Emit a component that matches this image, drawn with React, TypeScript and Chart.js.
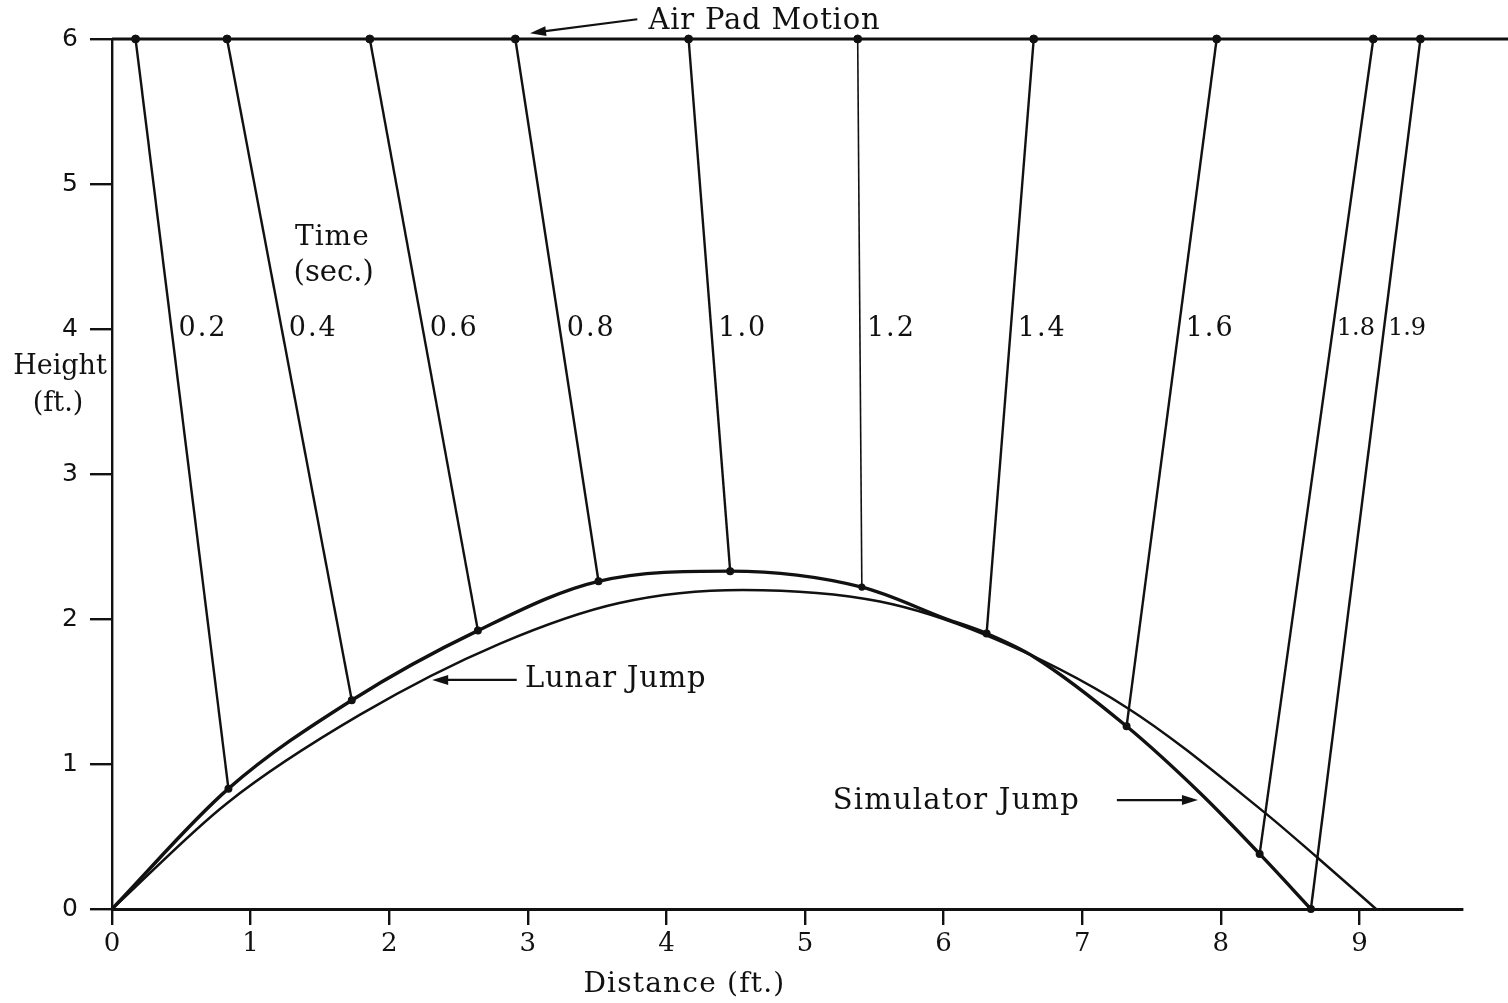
import { useEffect, useRef } from "react";
import { Chart, registerables } from "chart.js";

Chart.register(...registerables);

// Axis tick values
const distanceTicks = [0, 1, 2, 3, 4, 5, 6, 7, 8, 9]; // Distance (ft.)
const heightTicks = [0, 1, 2, 3, 4, 5, 6]; // Height (ft.)

// Time marks (sec.)
const timeLabels = ["0.2", "0.4", "0.6", "0.8", "1.0", "1.2", "1.4", "1.6", "1.8", "1.9"];

// Air pad position along the overhead track at each time mark
const airPadHeight = 6;
const airPadX = [0.17, 0.83, 1.86, 2.91, 4.16, 5.38, 6.65, 7.97, 9.1, 9.44];
const airPadTrack = [0, 10.2];

// Simulator position at each time mark
const simX = [0.84, 1.73, 2.64, 3.51, 4.46, 5.41, 6.31, 7.32, 8.28, 8.65];
const simY = [0.83, 1.44, 1.92, 2.26, 2.33, 2.22, 1.9, 1.26, 0.38, 0.0];

// Simulator Jump trajectory
const simCurveX = [0, 0.84, 1.73, 2.64, 3.51, 4.46, 5.41, 6.02, 6.31, 6.65, 7.32, 7.85, 8.28, 8.65];
const simCurveY = [0, 0.83, 1.44, 1.92, 2.26, 2.33, 2.22, 2.0, 1.9, 1.74, 1.26, 0.8, 0.38, 0.0];

// Lunar Jump trajectory
const lunarX = [0, 0.83, 1.79, 2.8, 3.66, 4.55, 5.54, 6.3, 7.32, 8.31, 8.69, 9.12];
const lunarY = [0, 0.73, 1.34, 1.83, 2.11, 2.2, 2.12, 1.89, 1.39, 0.67, 0.36, 0];

const INK = "#111";
const TYPE_FONT = '"DejaVu Serif", "Liberation Serif", serif';

function drawType(
  ctx: CanvasRenderingContext2D,
  text: string,
  x: number,
  y: number,
  size: number,
  align: CanvasTextAlign = "left",
  spacing = 0
) {
  ctx.save();
  ctx.font = `${size}px ${TYPE_FONT}`;
  (ctx as any).letterSpacing = `${spacing}px`;
  ctx.fillStyle = INK;
  ctx.textAlign = align;
  ctx.textBaseline = "middle";
  ctx.fillText(text, x, y);
  ctx.restore();
}

function drawArrow(ctx: CanvasRenderingContext2D, x1: number, y1: number, x2: number, y2: number) {
  const ang = Math.atan2(y2 - y1, x2 - x1);
  const len = 16;
  const half = 5;
  ctx.save();
  ctx.strokeStyle = INK;
  ctx.fillStyle = INK;
  ctx.lineWidth = 2.2;
  ctx.beginPath();
  ctx.moveTo(x1, y1);
  ctx.lineTo(x2 - Math.cos(ang) * len * 0.6, y2 - Math.sin(ang) * len * 0.6);
  ctx.stroke();
  ctx.beginPath();
  ctx.moveTo(x2, y2);
  ctx.lineTo(
    x2 - Math.cos(ang) * len - Math.sin(ang) * half,
    y2 - Math.sin(ang) * len + Math.cos(ang) * half
  );
  ctx.lineTo(
    x2 - Math.cos(ang) * len + Math.sin(ang) * half,
    y2 - Math.sin(ang) * len - Math.cos(ang) * half
  );
  ctx.closePath();
  ctx.fill();
  ctx.restore();
}

const annotationPlugin = {
  id: "jumpAnnotations",
  afterDatasetsDraw(chart: any) {
    const ctx: CanvasRenderingContext2D = chart.ctx;
    const xs = chart.scales.x;
    const ys = chart.scales.y;
    const px = (v: number) => xs.getPixelForValue(v);
    const py = (v: number) => ys.getPixelForValue(v);
    const area = chart.chartArea;

    // time labels sit just right of each time line, level with height 4
    timeLabels.forEach((label, i) => {
      const t = (airPadHeight - 4) / (airPadHeight - simY[i]);
      const lx = airPadX[i] + (simX[i] - airPadX[i]) * t;
      const narrow = label === "1.8" || label === "1.9";
      drawType(ctx, label, px(lx) + (narrow ? 4 : 7), py(4), narrow ? 24 : 27, "left", narrow ? 0 : 2);
    });

    drawType(ctx, "Time", px(1.32), py(4.63), 28, "left", 1);
    drawType(ctx, "(sec.)", px(1.31), py(4.385), 29);

    drawType(ctx, "Air Pad Motion", px(3.87), py(6.12), 29, "left", 0.8);
    drawArrow(ctx, px(3.79), py(6.136), px(3.016), py(6.04));

    drawType(ctx, "Lunar Jump", px(2.98), py(1.58), 29, "left", 0.8);
    drawArrow(ctx, px(2.92), py(1.58), px(2.31), py(1.58));

    drawType(ctx, "Simulator Jump", px(5.2), py(0.745), 29, "left", 1.2);
    drawArrow(ctx, px(7.25), py(0.751), px(7.835), py(0.751));

    // axis titles
    drawType(ctx, "Distance (ft.)", px(4.13), area.bottom + 76, 28, "center", 1.2);
    drawType(ctx, "Height", area.left - 52, py(3.737), 27, "center");
    drawType(ctx, "(ft.)", area.left - 54, py(3.48), 27, "center");
  },
};

export default function App() {
  const canvasRef = useRef<HTMLCanvasElement | null>(null);

  useEffect(() => {
    if (!canvasRef.current) return;

    const timeLines = timeLabels.map((label, i) => ({
      label: `t = ${label}`,
      data: [
        { x: airPadX[i], y: airPadHeight },
        { x: simX[i], y: simY[i] },
      ],
      borderColor: INK,
      backgroundColor: INK,
      borderWidth: label === "1.2" ? 1.6 : 2.4,
      pointRadius: [0, 2.8],
      pointHoverRadius: 0,
      showLine: true,
      clip: false,
    }));

    const chart = new Chart(canvasRef.current, {
      type: "scatter",
      data: {
        datasets: [
          {
            label: "Air Pad track",
            data: airPadTrack.map((x) => ({ x, y: airPadHeight })),
            borderColor: INK,
            borderWidth: 3,
            pointRadius: 0,
            showLine: true,
            clip: false,
          },
          {
            label: "Air Pad Motion",
            data: airPadX.map((x) => ({ x, y: airPadHeight })),
            borderColor: INK,
            backgroundColor: INK,
            pointRadius: 4,
            showLine: false,
            clip: false,
          },
          ...timeLines,
          {
            label: "Simulator Jump",
            data: simCurveX.map((x, i) => ({ x, y: simCurveY[i] })),
            borderColor: INK,
            borderWidth: 3.4,
            pointRadius: 0,
            showLine: true,
            cubicInterpolationMode: "monotone",
            clip: false,
          },
          {
            label: "Lunar Jump",
            data: lunarX.map((x, i) => ({ x, y: lunarY[i] })),
            borderColor: INK,
            borderWidth: 2.5,
            pointRadius: 0,
            showLine: true,
            cubicInterpolationMode: "monotone",
            clip: false,
          },
        ] as any,
      },
      options: {
        responsive: false,
        animation: false,
        events: [],
        layout: { padding: { top: 39, right: 46, left: 0, bottom: 0 } },
        plugins: {
          legend: { display: false },
          tooltip: { enabled: false },
          title: { display: false },
        },
        scales: {
          x: {
            type: "linear",
            min: 0,
            max: 9.74,
            afterBuildTicks: (s: any) => {
              s.ticks = distanceTicks.map((value) => ({ value }));
            },
            afterFit: (s: any) => {
              s.height = 94;
            },
            ticks: {
              color: INK,
              padding: 4,
              font: { family: '"DejaVu Serif", serif', size: 26 },
              callback: (v: any) => String(v),
            },
            grid: {
              display: true,
              drawOnChartArea: false,
              drawTicks: true,
              tickLength: 16,
              color: INK,
              lineWidth: 2.4,
            },
            border: { display: true, color: INK, width: 3 },
          },
          y: {
            type: "linear",
            min: 0,
            max: 6,
            afterBuildTicks: (s: any) => {
              s.ticks = heightTicks.map((value) => ({ value }));
            },
            afterFit: (s: any) => {
              s.width = 112;
            },
            ticks: {
              color: INK,
              padding: 12,
              font: { family: '"DejaVu Sans", sans-serif', size: 25 },
              callback: (v: any) => String(v),
            },
            grid: {
              display: true,
              drawOnChartArea: false,
              drawTicks: true,
              tickLength: 22,
              color: INK,
              lineWidth: 2.4,
            },
            border: { display: true, color: INK, width: 2.4 },
          },
        },
      },
      plugins: [annotationPlugin],
    });

    return () => chart.destroy();
  }, []);

  return (
    <div
      style={{
        position: "absolute",
        left: 0,
        top: 0,
        width: 1508,
        height: 1003,
        background: "#fff",
      }}
    >
      <canvas ref={canvasRef} width={1508} height={1003} />
    </div>
  );
}
